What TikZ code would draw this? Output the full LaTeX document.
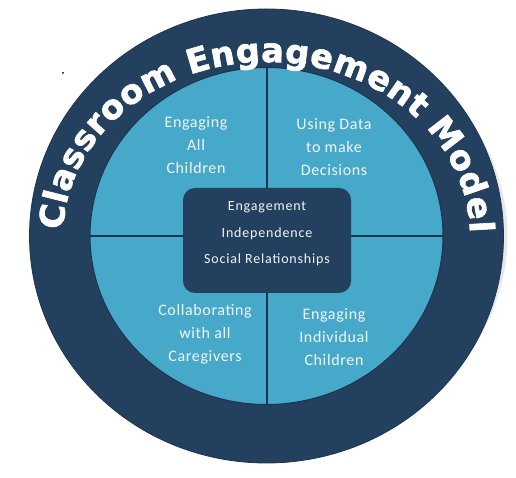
\documentclass[tikz,border=0pt]{standalone}
\usepackage{fontspec}
\usetikzlibrary{decorations.text,calc}
\newfontfamily\titlefont[FakeBold=2]{DejaVu Sans Bold}
\newfontfamily\quadfont[LetterSpace=4]{Carlito}
\newfontfamily\corefont[LetterSpace=6]{Carlito}
\definecolor{navy}{HTML}{23405F}
\definecolor{navyline}{HTML}{1C3350}
\definecolor{sky}{HTML}{47A9C9}
\definecolor{softwhite}{HTML}{F2F6F8}
\tikzset{
  quadtext/.style={text=softwhite, align=center, font={\quadfont\fontsize{16}{23}\selectfont}},
  coretext/.style={text=softwhite, align=center, font={\corefont\fontsize{14}{26.5}\selectfont}},
  divider/.style={draw=navyline, line width=1.8pt},
  corebox/.style={fill=navy, rounded corners=12pt, minimum width=168pt, minimum height=105pt, inner sep=0pt}
}
\begin{document}
\begin{tikzpicture}[x=1pt,y=1pt]
\useasboundingbox (0,0) rectangle (516,478);
\coordinate (c) at (266.5,242);
% faint shadow
\fill[gray!18] ([xshift=4pt]c) ellipse [x radius=237, y radius=215];
% outer ring
\fill[navy, draw=navyline, line width=0.8pt] (c) ellipse [x radius=237, y radius=227];
% inner disc
\fill[sky, draw=navyline, line width=1pt] (c) ellipse [x radius=176.5, y radius=168.5];
% dividers
\coordinate (vt) at ($(c)+(0.5,168.5)$);
\coordinate (vb) at ($(c)+(0.5,-168.5)$);
\coordinate (hl) at ($(c)+(-176.5,0)$);
\coordinate (hr) at ($(c)+(176.5,0)$);
\draw[divider] (vt) -- (vb);
\draw[divider] (hl) -- (hr);
% core box
\node[corebox] (core) at (267,237.5) {};
\node[coretext] (coretxt) at (267,244) {Engagement\\Independence\\Social Relationships};
% quadrant texts
\node[quadtext] (q1) at (196,333) {Engaging\\All\\Children};
\node[quadtext] (q2) at (334,331) {Using Data\\to make\\Decisions};
\node[quadtext] (q3) at (205,144) {Collaborating\\with all\\Caregivers};
\node[quadtext] (q4) at (334,141) {Engaging\\Individual\\Children};
% title along arc
\path[decorate, decoration={text along path,
   text={|\titlefont\fontsize{33.5}{34}\selectfont\color{white}|Classroom Engagement Model},
   text align={fit to path}}]
  ([shift={(178:203.5 and 174)}]c) arc[start angle=178, end angle=1, x radius=203.5, y radius=174];
% stray dot
\fill[black] (63,405) circle (1);
\end{tikzpicture}
\end{document}
